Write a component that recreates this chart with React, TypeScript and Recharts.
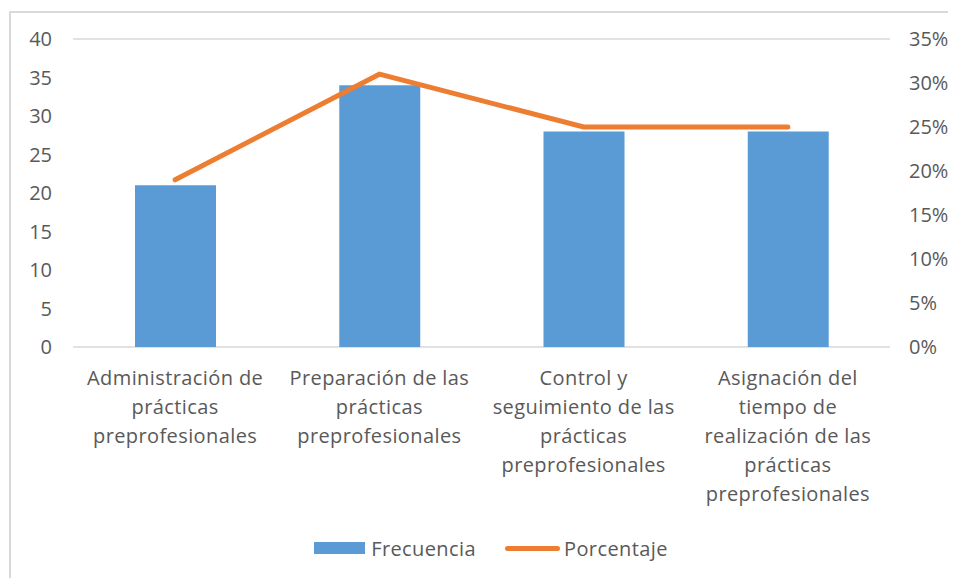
import { Bar, ComposedChart, Line, XAxis, YAxis, CartesianGrid, Legend } from "recharts"

const categories = [
  "Administración de\nprácticas\npreprofesionales",
  "Preparación de las\nprácticas\npreprofesionales",
  "Control y\nseguimiento de las\nprácticas\npreprofesionales",
  "Asignación del\ntiempo de\nrealización de las\nprácticas\npreprofesionales",
]
const frecuencia = [21, 34, 28, 28]
const porcentaje = [19, 31, 25, 25]
const leftTicks = [0, 5, 10, 15, 20, 25, 30, 35, 40]
const rightTicks = [0, 5, 10, 15, 20, 25, 30, 35]

const data = categories.map((name, i) => ({
  name,
  frecuencia: frecuencia[i],
  porcentaje: porcentaje[i],
}))

const FONT = "'Open Sans', Lato, sans-serif"
const TEXT = "#595959"
const BLUE = "#5B9BD5"
const ORANGE = "#ED7D31"
const SPACING = 0.4

function CategoryTick(props: any) {
  const { x, y, payload } = props
  const lines = String(payload.value).split("\n")
  return (
    <text x={x} y={y} textAnchor="middle" fill={TEXT} fontSize={20} fontFamily={FONT} letterSpacing={SPACING}>
      {lines.map((line: string, i: number) => (
        <tspan key={i} x={x} y={y + 38 + i * 29}>
          {line}
        </tspan>
      ))}
    </text>
  )
}

function LegendBox() {
  return (
    <div
      style={{
        height: 40,
        display: "flex",
        justifyContent: "center",
        alignItems: "flex-start",
        fontFamily: FONT,
        fontSize: 20,
        letterSpacing: SPACING,
        color: TEXT,
        paddingLeft: 18,
      }}
    >
      <div style={{ display: "flex", alignItems: "center", height: 20 }}>
        <span style={{ width: 51, height: 12, background: BLUE, marginRight: 6 }} />
        <span>Frecuencia</span>
        <span style={{ width: 55, height: 5, background: ORANGE, borderRadius: 3, marginLeft: 29, marginRight: 4 }} />
        <span>Porcentaje</span>
      </div>
    </div>
  )
}

export default function App() {
  return (
    <div style={{ position: "relative", width: 948, height: 570 }}>
      <div
        style={{
          position: "absolute",
          left: 1,
          top: 3,
          width: 1000,
          height: 600,
          borderLeft: "2px solid #d9d9d9",
          borderTop: "2px solid #d9d9d9",
        }}
      />
      <div style={{ position: "absolute", left: 0, top: 0 }}>
        <ComposedChart width={948} height={570} data={data} margin={{ top: 31, right: 0, bottom: 0, left: 0 }}>
          <CartesianGrid vertical={false} stroke="#d9d9d9" strokeWidth={1.5} />
          <XAxis
            dataKey="name"
            axisLine={false}
            tickLine={false}
            tickSize={0}
            tickMargin={0}
            height={191}
            interval={0}
            tick={<CategoryTick />}
          />
          <YAxis
            yAxisId="left"
            domain={[0, 40]}
            ticks={leftTicks}
            width={65}
            axisLine={false}
            tickLine={false}
            tickSize={0}
            tickMargin={21}
            tick={{ fill: TEXT, fontSize: 20, fontFamily: FONT }}
          />
          <YAxis
            yAxisId="right"
            orientation="right"
            domain={[0, 35]}
            ticks={rightTicks}
            width={66}
            axisLine={false}
            tickLine={false}
            tickSize={0}
            tickMargin={19}
            tickFormatter={(v) => `${v}%`}
            tick={{ fill: TEXT, fontSize: 20, fontFamily: FONT, textAnchor: "start" }}
          />
          <Legend verticalAlign="bottom" content={<LegendBox />} />
          <Bar yAxisId="left" dataKey="frecuencia" name="Frecuencia" fill={BLUE} barSize={81} isAnimationActive={false} />
          <Line
            yAxisId="right"
            type="linear"
            dataKey="porcentaje"
            name="Porcentaje"
            stroke={ORANGE}
            strokeWidth={5}
            strokeLinecap="round"
            dot={false}
            activeDot={false}
            isAnimationActive={false}
          />
        </ComposedChart>
      </div>
    </div>
  )
}
